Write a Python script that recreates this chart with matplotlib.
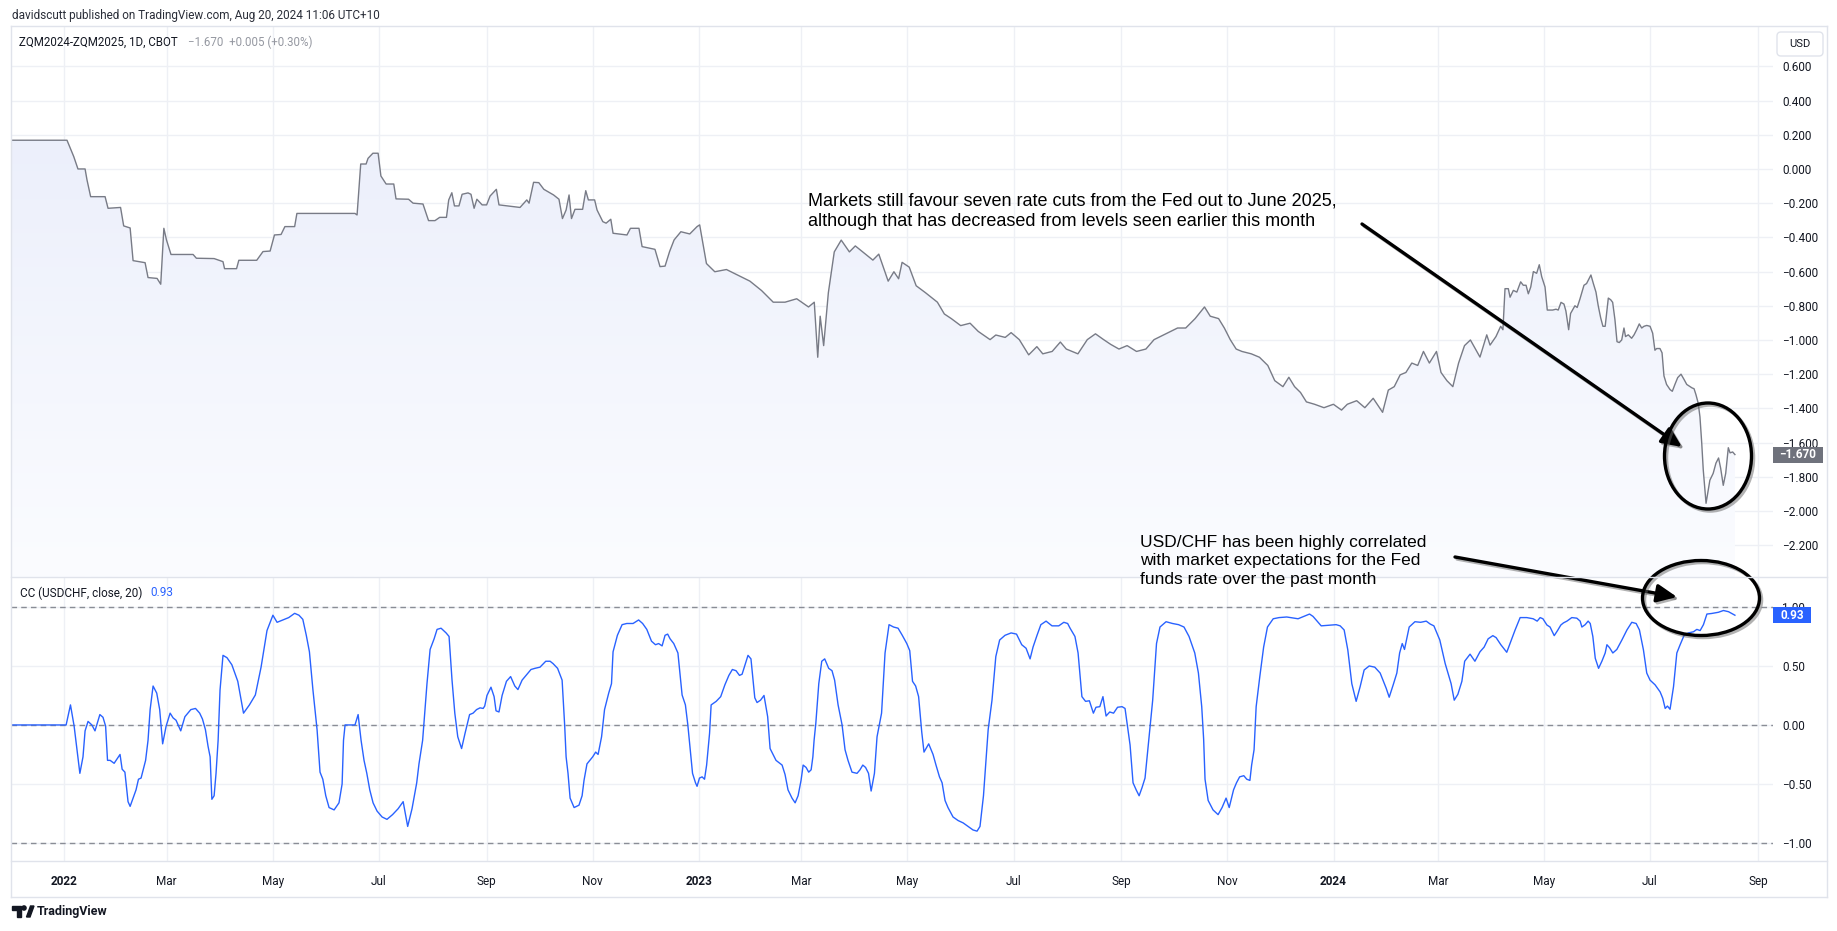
import numpy as np
import pandas as pd
import matplotlib
matplotlib.use("Agg")
import matplotlib.pyplot as plt
import matplotlib.dates as mdates
import matplotlib.patheffects as pe
from matplotlib.patches import Ellipse, FancyArrowPatch, Rectangle, FancyBboxPatch, Polygon, Circle
from matplotlib.lines import Line2D
from matplotlib.colors import LinearSegmentedColormap
from matplotlib.transforms import blended_transform_factory

# ---- data (days counted from 1 Jan 2022) ----
base_date = pd.Timestamp("2022-01-01")

zq_days = [
    -31, 1.7, 5.6, 8, 12.1, 13.2, 15.3, 23.6, 25.3, 32.5,
    34.3, 38, 39.7, 46.6, 48.3, 53.5, 55.6, 57.4, 58.9, 61.5,
    74.2, 76.1, 86.3, 91.4, 92.3, 99.2, 100.5, 110.8, 114.4, 118.5,
    121, 124.8, 127, 132.6, 133.9, 167.3, 168.5, 170.6, 173.7, 174.8,
    177.6, 180.6, 182.2, 185.2, 189.6, 190.9, 198.1, 200.7, 206.4, 209.6,
    213.3, 216, 219.9, 221.2, 223, 224.5, 227.1, 228.9, 232.3, 234,
    235.8, 237.4, 240.4, 243, 245, 248.6, 250.1, 262.2, 266.1, 267.4,
    270, 273, 275.9, 281.5, 284.6, 286.6, 288.7, 290.4, 291.8, 293.8,
    298.2, 300, 301.5, 305.1, 306.5, 309.8, 311.7, 314.4, 315.7, 323.7,
    325.7, 330.6, 332.4, 339.8, 342.7, 345.6, 348.2, 350.8, 354.7, 359.8,
    364, 365.5, 369.4, 374.2, 380.9, 387.6, 394.4, 401.1, 407.8, 414.6,
    421.3, 428.1, 431.4, 433.4, 434.8, 436.8, 439.5, 442.9, 446.9, 451.6,
    455, 461.7, 465.1, 468.5, 473.9, 477.2, 479.9, 481.9, 486, 490,
    495.4, 502.2, 506.2, 510.2, 515.6, 521, 525.7, 532.5, 535.8, 541.2,
    544.6, 549.3, 554.7, 559.4, 562.8, 568.2, 572.9, 576.3, 583, 588.4,
    593.1, 597.8, 601.9, 606.6, 611.3, 616.7, 622.1, 626.8, 633.5, 640.3,
    645, 650.4, 655.8, 659.1, 663.9, 667.2, 670.6, 674, 677.3, 682.7,
    687.4, 692.2, 696.2, 700.9, 704.3, 707.6, 711, 714.4, 719.1, 724.5,
    729.9, 734.6, 737.9, 743.3, 748, 752.8, 758.2, 761.5, 764.9, 768.3,
    771.6, 775, 778.4, 781.7, 785.1, 789.2, 791.8, 795.2, 798.6, 801.9,
    805.3, 808.7, 812, 814.2, 818.1, 820, 823.4, 826.1, 827.4, 828.6,
    830.5, 831.5, 833.4, 835.4, 837.6, 839.1, 840.7, 842, 843.4, 844.9,
    846.8, 848.3, 849.7, 851.6, 852.9, 856, 857.9, 859.2, 860.8, 862.5,
    863.6, 865.2, 866.3, 868.8, 870.1, 871.7, 874, 875.5, 878, 879.4,
    880.9, 882.2, 883.6, 884.9, 886.2, 888, 889.4, 890.5, 891.8, 893,
    894.3, 895.7, 897, 897.9, 899.5, 901.4, 902.8, 904.3, 905.8, 907.2,
    908.5, 910.1, 912, 913.5, 914.8, 915.8, 917.7, 918.9, 920, 921.5,
    923.5, 924.8, 926.3, 927.9, 929.8, 931.5, 933.1, 934.6, 936.1, 937.3,
    938.4, 939.7, 940.7, 941.7, 942.6, 944.2, 946.4, 948.3, 949.9, 951.4,
    952.6, 954.1, 955.5, 957, 958, 959.5, 960.8,
]
zq_vals = [
    0.168, 0.168, 0.072, 0.0, 0.0, -0.064, -0.162, -0.162, -0.23, -0.225,
    -0.333, -0.345, -0.536, -0.548, -0.635, -0.64, -0.674, -0.347, -0.415, -0.5,
    -0.5, -0.522, -0.524, -0.542, -0.583, -0.583, -0.534, -0.534, -0.483, -0.48,
    -0.386, -0.383, -0.337, -0.337, -0.26, -0.26, -0.269, 0.029, 0.029, 0.062,
    0.092, 0.092, -0.041, -0.088, -0.088, -0.175, -0.177, -0.2, -0.205, -0.302,
    -0.302, -0.283, -0.283, -0.181, -0.139, -0.216, -0.216, -0.148, -0.14, -0.148,
    -0.23, -0.177, -0.21, -0.21, -0.158, -0.119, -0.21, -0.225, -0.181, -0.2,
    -0.078, -0.08, -0.119, -0.152, -0.177, -0.29, -0.24, -0.152, -0.29, -0.236,
    -0.236, -0.127, -0.181, -0.181, -0.24, -0.308, -0.317, -0.294, -0.376, -0.386,
    -0.347, -0.347, -0.454, -0.47, -0.571, -0.568, -0.483, -0.415, -0.367, -0.38,
    -0.337, -0.327, -0.553, -0.601, -0.588, -0.622, -0.656, -0.711, -0.779, -0.779,
    -0.759, -0.807, -0.779, -1.101, -0.861, -1.033, -0.724, -0.485, -0.416, -0.485,
    -0.45, -0.505, -0.533, -0.498, -0.656, -0.601, -0.642, -0.546, -0.574, -0.683,
    -0.724, -0.779, -0.848, -0.875, -0.916, -0.902, -0.95, -0.998, -0.971, -0.985,
    -0.957, -0.998, -1.087, -1.039, -1.081, -1.067, -1.012, -1.053, -1.081, -0.998,
    -0.964, -0.998, -1.026, -1.053, -1.033, -1.067, -1.053, -0.998, -0.964, -0.93,
    -0.93, -0.875, -0.807, -0.861, -0.875, -0.93, -0.998, -1.053, -1.067, -1.081,
    -1.101, -1.149, -1.238, -1.273, -1.218, -1.273, -1.307, -1.362, -1.376, -1.396,
    -1.376, -1.41, -1.376, -1.355, -1.396, -1.341, -1.423, -1.293, -1.273, -1.204,
    -1.19, -1.135, -1.149, -1.067, -1.135, -1.067, -1.19, -1.238, -1.273, -1.135,
    -1.033, -1.0, -1.06, -1.1, -0.97, -1.03, -0.98, -0.92, -0.94, -0.7,
    -0.7, -0.75, -0.71, -0.72, -0.66, -0.68, -0.68, -0.73, -0.69, -0.6,
    -0.61, -0.56, -0.63, -0.69, -0.825, -0.825, -0.82, -0.825, -0.78, -0.79,
    -0.83, -0.94, -0.845, -0.8, -0.81, -0.76, -0.68, -0.67, -0.62, -0.67,
    -0.72, -0.8, -0.87, -0.92, -0.92, -0.755, -0.765, -0.78, -0.88, -1.01,
    -1.015, -1.0, -0.93, -0.98, -0.97, -0.99, -0.97, -0.94, -0.906, -0.93,
    -0.92, -0.915, -0.92, -0.96, -1.06, -1.05, -1.05, -1.075, -1.21, -1.26,
    -1.29, -1.3, -1.26, -1.22, -1.2, -1.23, -1.26, -1.27, -1.28, -1.285,
    -1.32, -1.37, -1.45, -1.6, -1.76, -1.955, -1.82, -1.78, -1.72, -1.69,
    -1.75, -1.85, -1.78, -1.63, -1.66, -1.655, -1.67,
]

cc_days = [
    -31, 1.2, 3.7, 5.8, 9.1, 10.9, 12.1, 13.8, 16, 17.8,
    20.6, 22.4, 23.9, 25, 26.5, 28.8, 32.2, 33.4, 35, 36.8,
    38, 39.7, 41.4, 42.8, 44.3, 46.9, 48.3, 49.5, 51.2, 53.3,
    55, 56.7, 58.7, 61, 62.7, 64.4, 67.1, 69.5, 72.9, 75.6,
    78, 79.6, 81.3, 82.8, 84, 85, 86.3, 87.4, 88.6, 89.7,
    91.4, 93.7, 96.5, 99.9, 103.2, 106.6, 110, 113.3, 116.7, 120.1,
    122.5, 125.9, 129.2, 132.6, 135.1, 137.3, 139.3, 141.1, 143.1, 145.5,
    147.2, 148.8, 150.5, 152.4, 155.3, 158.1, 159.9, 160.7, 161.6, 167.3,
    169.1, 170.8, 172.5, 174.1, 175.8, 177.7, 180, 182.9, 185.7, 188.9,
    192.1, 195, 197.6, 200.1, 202.8, 204.1, 206.2, 208.7, 210.5, 212.8,
    214.5, 216.8, 219.7, 221.4, 223.1, 224.7, 226.4, 228.6, 230.6, 233.2,
    235.2, 237.2, 239.2, 241, 241.9, 243.2, 245.5, 247.3, 248.4, 250.1,
    251.9, 254.4, 256.8, 259.2, 261, 263.4, 266.2, 268.5, 270.8, 273.7,
    277, 279.5, 281.2, 283.8, 286.4, 287.9, 288.7, 289.8, 291, 293.3,
    296.1, 297.9, 299, 300.7, 304, 305.7, 307.1, 309.1, 310.8, 313.2,
    314.8, 315.7, 318.2, 320.9, 323.6, 327.2, 330.4, 332.7, 335.1, 337.8,
    340.1, 341.9, 343.9, 345.6, 347.1, 348.5, 350.6, 353, 355.4, 357.3,
    358.7, 361.4, 363.1, 364, 365.4, 366.9, 368.3, 369.5, 371.2, 372.1,
    375, 377.6, 380, 382.3, 384.3, 386.4, 388.4, 389.9, 391.6, 393.3,
    395, 397.2, 398.5, 400.5, 402.5, 404.6, 406, 407.7, 409.4, 412.9,
    414.6, 416.3, 418.6, 420.4, 422.1, 423.8, 425, 426.7, 428.2, 429.6,
    430.6, 431.3, 432.3, 434, 435.7, 437.4, 439.7, 441.6, 443.1, 445.1,
    447.4, 449.1, 450.8, 453.1, 456, 457.7, 459.3, 460.9, 462.6, 464.1,
    466, 467.5, 470.1, 472.1, 474.4, 477, 479.6, 482, 484.6, 486.3,
    487.9, 489.7, 491.4, 493.2, 494.5, 497.2, 499.7, 501.4, 503.4, 504.9,
    506.6, 508.3, 511.2, 514.1, 517, 519.8, 522.7, 525, 526.7, 528.7,
    530.6, 531.4, 533.6, 535.8, 538, 541.1, 544.6, 547.7, 550.7, 553.2,
    555.5, 557.2, 559.5, 561.7, 564.7, 568.1, 572, 574.9, 577.1, 578.5,
    581.3, 583.1, 585.3, 587.4, 589.6, 591.9, 593.4, 595.6, 597.4, 599.2,
    601.3, 603.5, 605.8, 608.4, 610.1, 611.7, 613, 614.7, 616.5, 618.2,
    619.9, 621.6, 623.6, 626, 628.2, 630.2, 633.7, 637.4, 640.9, 644,
    646.9, 650.2, 652.3, 654.2, 655.3, 656.1, 657.9, 660.7, 663.6, 665.9,
    668.2, 670, 672.5, 674.2, 676, 678.4, 680.1, 681.9, 682.9, 684.3,
    685.5, 687.6, 689.8, 692, 695.3, 698.7, 703.1, 709.6, 712.9, 716.2,
    718.2, 722.9, 727.2, 731.5, 733.8, 736.1, 738.2, 740.5, 743, 745.3,
    747.6, 750.5, 753.7, 756.8, 760.3, 762, 764.3, 766.4, 768, 769.5,
    770.8, 773.5, 776.8, 780.1, 783.3, 785.6, 787.7, 791.1, 794.2, 797.6,
    799.4, 801.5, 803.8, 805.4, 808.5, 811.3, 814.2, 816.6, 818.9, 821.6,
    823.5, 826.2, 829.6, 831.5, 834.4, 837.3, 841.1, 844.8, 847.1, 848.8,
    850.4, 852.7, 854.5, 856.9, 858.8, 860.7, 862.2, 864.2, 867, 869.9,
    871.8, 872.8, 874.7, 876.4, 877.6, 879.1, 880.5, 882.4, 884.3, 886.2,
    887.2, 888.7, 890.6, 892.9, 895.8, 898.7, 901.5, 904, 905.9, 908.2,
    910.1, 912, 914.9, 917.8, 919.3, 920.7, 922, 923.5, 925.5, 927.4,
    929.3, 931.6, 934.1, 937, 938.9, 940.8, 942.7, 944.7, 947.5, 951.3,
    954.2, 957.1, 960.8,
]
cc_vals = [
    0, 0, 0.17, -0.01, -0.41, -0.27, -0.05, 0.03, 0.0, -0.05,
    0.088, 0.065, -0.01, -0.3, -0.3, -0.325, -0.25, -0.375, -0.4, -0.65,
    -0.69, -0.62, -0.55, -0.46, -0.45, -0.3, -0.13, 0.13, 0.33, 0.27,
    0.13, -0.16, -0.01, 0.1, 0.06, 0.04, -0.05, 0.07, 0.13, 0.14,
    0.1, 0.05, -0.04, -0.18, -0.27, -0.63, -0.6, -0.41, -0.13, 0.296,
    0.59, 0.57, 0.51, 0.37, 0.1, 0.17, 0.254, 0.49, 0.8, 0.93,
    0.87, 0.89, 0.91, 0.946, 0.93, 0.895, 0.76, 0.62, 0.3, -0.04,
    -0.4, -0.46, -0.6, -0.7, -0.72, -0.66, -0.5, -0.13, 0.0, 0.0,
    0.088, -0.13, -0.3, -0.41, -0.55, -0.66, -0.73, -0.78, -0.8, -0.76,
    -0.71, -0.65, -0.86, -0.71, -0.49, -0.33, -0.13, 0.35, 0.64, 0.73,
    0.81, 0.82, 0.78, 0.75, 0.38, 0.1, -0.1, -0.2, -0.07, 0.088,
    0.1, 0.13, 0.145, 0.14, 0.16, 0.25, 0.32, 0.24, 0.12, 0.11,
    0.25, 0.37, 0.41, 0.33, 0.3, 0.38, 0.43, 0.47, 0.48, 0.49,
    0.54, 0.54, 0.52, 0.48, 0.38, -0.01, -0.27, -0.41, -0.62, -0.7,
    -0.68, -0.6, -0.47, -0.33, -0.27, -0.23, -0.25, -0.1, 0.13, 0.27,
    0.35, 0.62, 0.76, 0.85, 0.86, 0.86, 0.89, 0.86, 0.81, 0.71,
    0.68, 0.69, 0.67, 0.76, 0.77, 0.73, 0.69, 0.61, 0.254, 0.17,
    0.0, -0.41, -0.49, -0.52, -0.45, -0.44, -0.46, -0.34, -0.07, 0.17,
    0.2, 0.24, 0.34, 0.42, 0.47, 0.46, 0.42, 0.43, 0.51, 0.59,
    0.56, 0.23, 0.19, 0.21, 0.25, 0.07, -0.2, -0.25, -0.3, -0.34,
    -0.42, -0.55, -0.62, -0.66, -0.6, -0.47, -0.34, -0.36, -0.4, -0.38,
    -0.27, -0.13, 0.015, 0.35, 0.54, 0.56, 0.48, 0.46, 0.38, 0.17,
    0.0, -0.21, -0.3, -0.4, -0.41, -0.38, -0.34, -0.36, -0.41, -0.56,
    -0.41, -0.1, 0.1, 0.61, 0.85, 0.83, 0.82, 0.76, 0.69, 0.63,
    0.37, 0.33, 0.24, -0.06, -0.23, -0.16, -0.25, -0.34, -0.44, -0.49,
    -0.64, -0.7, -0.78, -0.81, -0.83, -0.86, -0.89, -0.9, -0.86, -0.6,
    -0.21, -0.04, 0.21, 0.58, 0.72, 0.76, 0.78, 0.77, 0.68, 0.65,
    0.56, 0.66, 0.76, 0.85, 0.88, 0.84, 0.84, 0.87, 0.86, 0.82,
    0.75, 0.61, 0.24, 0.2, 0.205, 0.1, 0.15, 0.155, 0.24, 0.076,
    0.11, 0.1, 0.15, 0.155, 0.14, -0.03, -0.17, -0.49, -0.55, -0.6,
    -0.53, -0.45, -0.15, 0.21, 0.69, 0.83, 0.875, 0.86, 0.85, 0.83,
    0.75, 0.61, 0.44, 0.155, -0.12, -0.46, -0.64, -0.72, -0.76, -0.7,
    -0.62, -0.7, -0.55, -0.49, -0.44, -0.43, -0.46, -0.47, -0.34, -0.21,
    0.155, 0.41, 0.66, 0.83, 0.9, 0.91, 0.915, 0.9, 0.92, 0.94,
    0.92, 0.84, 0.845, 0.85, 0.84, 0.805, 0.636, 0.35, 0.2, 0.325,
    0.466, 0.5, 0.49, 0.44, 0.31, 0.235, 0.34, 0.44, 0.61, 0.69,
    0.64, 0.83, 0.875, 0.87, 0.88, 0.855, 0.84, 0.72, 0.52, 0.35,
    0.21, 0.26, 0.37, 0.54, 0.6, 0.54, 0.62, 0.66, 0.73, 0.757,
    0.74, 0.68, 0.616, 0.69, 0.805, 0.91, 0.91, 0.9, 0.88, 0.91,
    0.9, 0.847, 0.83, 0.757, 0.8, 0.847, 0.865, 0.88, 0.91, 0.905,
    0.88, 0.83, 0.85, 0.88, 0.86, 0.75, 0.565, 0.48, 0.54, 0.61,
    0.68, 0.655, 0.61, 0.64, 0.72, 0.805, 0.87, 0.86, 0.805, 0.636,
    0.44, 0.38, 0.34, 0.28, 0.226, 0.14, 0.16, 0.133, 0.325, 0.61,
    0.68, 0.76, 0.78, 0.79, 0.81, 0.8, 0.85, 0.94, 0.945, 0.955,
    0.97, 0.96, 0.93,
]

price_ticks = [0.6, 0.4, 0.2, 0.0, -0.2, -0.4, -0.6, -0.8, -1.0, -1.2,
               -1.4, -1.6, -1.8, -2.0, -2.2]
cc_ticks = [1.0, 0.5, 0.0, -0.5, -1.0]
cc_levels = [1.0, 0.0, -1.0]
month_ticks = pd.date_range("2022-01-01", "2024-09-01", freq="2MS")
month_labels = [d.strftime("%Y") if d.month == 1 else d.strftime("%b") for d in month_ticks]

header = "davidscutt published on TradingView.com, Aug 20, 2024 11:06 UTC+10"
symbol = "ZQM2024-ZQM2025, 1D, CBOT"
change = "\u22121.670  +0.005 (+0.30%)"
cc_name = "CC (USDCHF, close, 20)"
note_fed = ("Markets still favour seven rate cuts from the Fed out to June 2025,\n"
            "although that has decreased from levels seen earlier this month")
note_chf = ("USD/CHF has been highly correlated\n"
            "with market expectations for the Fed\n"
            "funds rate over the past month")

# ---- style ----
W, H, DPI = 1837, 931, 100
TEXT = "#131722"
GRID = "#eef0f5"
BORDER = "#e0e3eb"
LINE_GRAY = "#787b86"
BLUE = "#2962ff"

plt.rcParams["font.family"] = ["Roboto", "DejaVu Sans"]


def P(x, y):
    # image pixel -> inches from bottom-left (for fig.dpi_scale_trans)
    return (x / DPI, (H - y) / DPI)


def signed(v, nd):
    return f"{v:.{nd}f}".replace("-", "\u2212")


zq_dates = base_date + pd.to_timedelta(np.array(zq_days), unit="D")
cc_dates = base_date + pd.to_timedelta(np.array(cc_days), unit="D")

fig = plt.figure(figsize=(W / DPI, H / DPI), dpi=DPI)
fig.patch.set_facecolor("white")

ax1 = fig.add_axes([11 / W, 1 - 577 / H, (1773 - 11) / W, (577 - 26) / H])
ax2 = fig.add_axes([11 / W, 1 - 861 / H, (1773 - 11) / W, (861 - 577) / H], sharex=ax1)

y1_lo, y1_hi = -2.386, 0.836
y2_lo, y2_hi = -1.153, 1.254
x_lo = base_date - pd.Timedelta(days=30.5)
x_hi = base_date + pd.Timedelta(days=982.7)

# ---- top pane: spread with gradient area ----
fill_cmap = LinearSegmentedColormap.from_list("area", [(232/255, 236/255, 250/255),
                                                       (251/255, 252/255, 1.0)])
area = ax1.fill_between(zq_dates, zq_vals, y1_lo, facecolor="none", edgecolor="none")
grad = np.linspace(0, 1, 256).reshape(-1, 1)
xn0, xn1 = mdates.date2num(zq_dates[0]), mdates.date2num(zq_dates[-1])
img = ax1.imshow(grad, extent=[xn0, xn1, y1_lo, y1_hi], aspect="auto", cmap=fill_cmap,
                 origin="upper", interpolation="bilinear", zorder=1)
img.set_clip_path(area.get_paths()[0], transform=ax1.transData)
ax1.plot(zq_dates, zq_vals, color=LINE_GRAY, lw=1.0, zorder=3)

# ---- bottom pane: correlation ----
ax2.plot(cc_dates, cc_vals, color=BLUE, lw=1.0, zorder=3)
for lvl in cc_levels:
    ax2.axhline(lvl, color="#8a8d96", lw=1.0, dashes=(4, 3), zorder=2)

for ax, ticks, nd, (lo, hi) in ((ax1, price_ticks, 3, (y1_lo, y1_hi)),
                                (ax2, cc_ticks, 2, (y2_lo, y2_hi))):
    ax.set_xlim(x_lo, x_hi)
    ax.set_ylim(lo, hi)
    ax.set_yticks(ticks)
    ax.set_yticklabels([signed(v, nd) for v in ticks])
    ax.yaxis.tick_right()
    ax.tick_params(axis="y", length=0, pad=6.5, labelsize=8.5, labelcolor=TEXT)
    ax.grid(True, color=GRID, lw=1.0, zorder=0)
    ax.set_axisbelow(True)
    ax.set_facecolor("white")
    for s in ax.spines.values():
        s.set_visible(False)

ax2.set_xticks(month_ticks)
ax2.set_xticklabels(month_labels)
ax1.tick_params(axis="x", length=0, labelbottom=False)
ax2.tick_params(axis="x", length=0, pad=10, labelsize=8.5, labelcolor=TEXT)
for lbl, d in zip(ax2.get_xticklabels(), month_ticks):
    if d.month == 1:
        lbl.set_fontweight("bold")

# ---- last value tags on the price scale ----
def value_tag(ax, value, text, color, width_px, px_per_unit):
    tr = blended_transform_factory(ax.transAxes, ax.transData)
    axw = (1773 - 11)
    half = 8 / px_per_unit
    ax.add_patch(Rectangle((1.0, value - half), width_px / axw, 2 * half, transform=tr,
                           facecolor=color, edgecolor="none", clip_on=False, zorder=5))
    ax.text(1.0 + width_px / axw / 2, value, text, transform=tr, ha="center", va="center",
            color="white", fontsize=8.5, fontweight="bold", clip_on=False, zorder=6)


value_tag(ax1, zq_vals[-1], signed(zq_vals[-1], 3), "#6f727c", 50, 171)
value_tag(ax2, cc_vals[-1], signed(cc_vals[-1], 2), BLUE, 38, 118)

# ---- frame and headers ----
dtr = fig.dpi_scale_trans
for (xa, ya), (xb, yb) in [((11, 26), (1827, 26)), ((1827, 26), (1827, 897)),
                           ((11, 26), (11, 897)), ((11, 897), (1827, 897)),
                           ((11, 577), (1827, 577)), ((11, 861), (1827, 861))]:
    (x0, y0), (x1, y1) = P(xa, ya), P(xb, yb)
    fig.add_artist(Line2D([x0, x1], [y0, y1], transform=dtr, color=BORDER, lw=1.0))

fig.text(*P(12.5, 15), header, transform=dtr, fontsize=8.5, color="#2a2e39", va="center")
fig.text(*P(19, 42), symbol, transform=dtr, fontsize=8.3, color=TEXT, va="center")
fig.text(*P(188, 42), change, transform=dtr, fontsize=8.3, color="#9598a1", va="center")
fig.text(*P(20, 593), cc_name, transform=dtr, fontsize=8.5, color=TEXT, va="center")
fig.text(*P(150, 593), signed(cc_vals[-1], 2), transform=dtr, fontsize=8.5, color=BLUE,
         va="center")

fig.add_artist(FancyBboxPatch(P(1777, 56), 0.46, 0.24, boxstyle="round,pad=0,rounding_size=0.04",
                              transform=dtr, facecolor="white", edgecolor=BORDER, lw=1.0))
fig.text(*P(1800, 44), "USD", transform=dtr, fontsize=8, color=TEXT, ha="center", va="center")

# TradingView mark at the bottom
logo = [(12, 906), (21, 906), (21, 917), (17, 917), (17, 910), (12, 910)]
fig.add_artist(Polygon([P(*p) for p in logo], closed=True, transform=dtr, color=TEXT))
fig.add_artist(Circle(P(24, 908), 0.021, transform=dtr, color=TEXT))
fig.add_artist(Polygon([P(26.5, 917), P(30.5, 906), P(34, 906), P(30, 917)], closed=True,
                       transform=dtr, color=TEXT))
fig.text(*P(37, 911.5), "TradingView", transform=dtr, fontsize=9, fontweight="bold",
         color=TEXT, va="center")

# ---- hand-drawn annotations ----
shadow = [pe.SimpleLineShadow(offset=(1.5, -1.5), shadow_color="0.4", alpha=0.5), pe.Normal()]
note_font = dict(family=["Liberation Sans", "DejaVu Sans"], color="black",
                 linespacing=1.3, va="center", ha="left")
fig.text(*P(808, 211.5), note_fed, transform=dtr, fontsize=13, **note_font)
fig.text(*P(1140, 561), note_chf, transform=dtr, fontsize=12.5, **note_font)

for start, end in [((1362, 224), (1682, 447)), ((1455, 557), (1677, 597))]:
    arrow = FancyArrowPatch(P(*start), P(*end), transform=dtr,
                            arrowstyle="-|>,head_length=0.55,head_width=0.25",
                            mutation_scale=22, lw=2.4, color="black", shrinkA=0, shrinkB=0)
    arrow.set_path_effects(shadow)
    fig.add_artist(arrow)

for (cx, cy), w, h in [((1708, 456), 87, 106), ((1701, 598), 117, 75)]:
    ell = Ellipse(P(cx, cy), w / DPI, h / DPI, transform=dtr, fill=False,
                  edgecolor="black", lw=2.4)
    ell.set_path_effects(shadow)
    fig.add_artist(ell)

fig.savefig("out.png", dpi=DPI, facecolor="white")
